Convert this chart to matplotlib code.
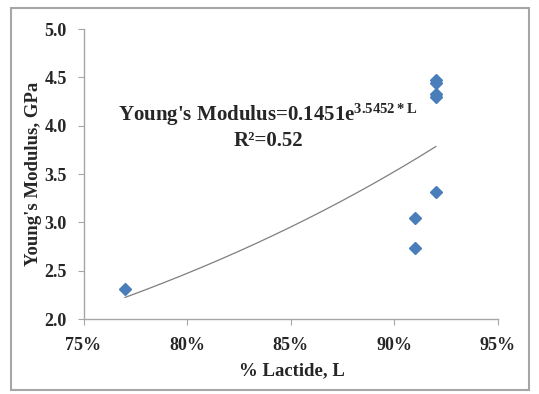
import numpy as np
import matplotlib
matplotlib.use("Agg")
import matplotlib.pyplot as plt
from matplotlib.patches import Rectangle
from matplotlib.ticker import FuncFormatter

plt.rcParams['font.family'] = ['Liberation Serif', 'DejaVu Serif']
plt.rcParams['font.weight'] = 'bold'
plt.rcParams['mathtext.fontset'] = 'custom'
plt.rcParams['mathtext.rm'] = 'Liberation Serif:bold'
plt.rcParams['mathtext.bf'] = 'Liberation Serif:bold'
plt.rcParams['mathtext.it'] = 'Liberation Serif:bold'

# Lactide fraction and measured modulus (GPa)
lactide = [0.77, 0.91, 0.91, 0.92, 0.92, 0.92, 0.92, 0.92]
modulus = [2.31, 2.74, 3.045, 3.32, 4.30, 4.33, 4.44, 4.47]

# Exponential fit coefficients
fit_a = 0.1451
fit_b = 3.5452
fit_r2 = 0.52

x_ticks = [0.75, 0.80, 0.85, 0.90, 0.95]
y_ticks = [2.0, 2.5, 3.0, 3.5, 4.0, 4.5, 5.0]

fig = plt.figure(figsize=(5.39, 3.94), dpi=100)
fig.patch.set_facecolor('white')
fig.add_artist(Rectangle((11 / 539, 1 - 390 / 394), 518 / 539, 382 / 394,
                         transform=fig.transFigure, fill=False,
                         edgecolor='#a6a6a6', linewidth=1.5))

ax = fig.add_axes([0.155, 0.190, 0.769, 0.736])

ax.plot(lactide, modulus, linestyle='none', marker='D', markersize=6,
        color='#4a7ebb', markeredgecolor='#4a7ebb')

xf = np.linspace(min(lactide), max(lactide), 200)
ax.plot(xf, fit_a * np.exp(fit_b * xf), color='#7f7f7f', linewidth=0.9)

ax.set_xlim(0.75, 0.95)
ax.set_ylim(2.0, 5.0)
ax.set_xticks(x_ticks)
ax.set_yticks(y_ticks)
ax.xaxis.set_major_formatter(FuncFormatter(lambda v, p: f"{v * 100:.0f}%"))
ax.yaxis.set_major_formatter(FuncFormatter(lambda v, p: f"{v:.1f}"))

for s in ['top', 'right']:
    ax.spines[s].set_visible(False)
for s in ['left', 'bottom']:
    ax.spines[s].set_color('#a6a6a6')
    ax.spines[s].set_linewidth(1.0)

ax.tick_params(axis='both', direction='out', color='#a6a6a6', length=4,
               labelsize=13, labelcolor='#262626')
ax.tick_params(axis='y', pad=8)
ax.tick_params(axis='x', pad=9)

ax.set_xlabel('% Lactide, L', fontsize=13.5, fontweight='bold',
              color='#262626')
ax.set_ylabel("Young's Modulus, GPa", fontsize=13.5, fontweight='bold',
              color='#262626')
ax.xaxis.set_label_coords((292 - 83.5) / 414.5, -(362 - 319) / 290)
ax.yaxis.set_label_coords(-(83.5 - 42) / 414.5, 0.5)

ax.text(0.445, 0.705,
        "Young's Modulus=0.1451e$^{3.5452*L}$",
        transform=ax.transAxes, ha='center', va='center',
        fontsize=15, fontweight='bold', color='#262626')
ax.text(0.445, 0.615, f"R²={fit_r2:.2f}",
        transform=ax.transAxes, ha='center', va='center',
        fontsize=15, fontweight='bold', color='#262626')

fig.savefig('out.png', dpi=100, facecolor='white')
